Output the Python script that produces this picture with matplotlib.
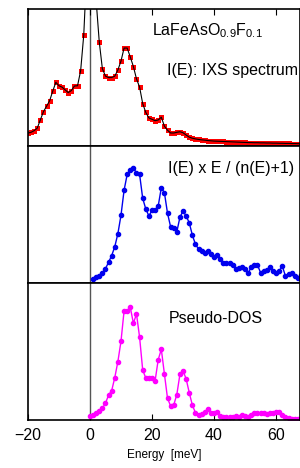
import matplotlib.pyplot as plt

plt.rcParams['font.family'] = ['Liberation Sans', 'DejaVu Sans']
plt.rcParams['mathtext.fontset'] = 'custom'
plt.rcParams['mathtext.rm'] = 'Liberation Sans'
plt.rcParams['mathtext.it'] = 'Liberation Sans'

# IXS spectrum I(E), arbitrary units (1.0 = top of panel)
e_ixs = list(range(-20, 69))
i_ixs = [0.095, 0.10, 0.112, 0.13, 0.19, 0.25, 0.29, 0.33, 0.40, 0.465,
         0.44, 0.43, 0.41, 0.39, 0.405, 0.438, 0.44, 0.55, 0.81, 1.3,
         4.0, 2.0, 1.06, 0.76, 0.565, 0.51, 0.50, 0.50, 0.51, 0.555,
         0.62, 0.715, 0.715, 0.65, 0.58, 0.49, 0.43, 0.31, 0.245, 0.205,
         0.195, 0.185, 0.19, 0.21, 0.145, 0.115, 0.095, 0.095, 0.10, 0.104,
         0.097, 0.08, 0.065, 0.057, 0.052, 0.048, 0.045, 0.043, 0.04, 0.038,
         0.036, 0.035, 0.034, 0.033, 0.032, 0.031, 0.030, 0.029, 0.028, 0.027,
         0.026, 0.025, 0.025, 0.024, 0.024, 0.023, 0.023, 0.022, 0.022, 0.021,
         0.021, 0.020, 0.020, 0.019, 0.019, 0.018, 0.018, 0.017, 0.017]

# I(E) x E / (n(E)+1)
e_mid = list(range(1, 69))
i_mid = [0.032, 0.044, 0.053, 0.071, 0.105, 0.151, 0.20, 0.265, 0.36, 0.494,
         0.677, 0.793, 0.825, 0.837, 0.805, 0.793, 0.618, 0.54, 0.49, 0.53,
         0.53, 0.562, 0.696, 0.659, 0.509, 0.41, 0.40, 0.374, 0.48, 0.526,
         0.489, 0.44, 0.35, 0.283, 0.248, 0.234, 0.217, 0.236, 0.212, 0.188,
         0.204, 0.173, 0.148, 0.144, 0.144, 0.131, 0.10, 0.107, 0.119, 0.10,
         0.071, 0.119, 0.131, 0.131, 0.075, 0.09, 0.095, 0.115, 0.088, 0.075,
         0.088, 0.124, 0.051, 0.063, 0.071, 0.051, 0.034, 0.058]

# Pseudo-DOS
e_dos = list(range(0, 68))
i_dos = [0.029, 0.036, 0.049, 0.066, 0.085, 0.122, 0.182, 0.214, 0.309, 0.426,
         0.574, 0.796, 0.798, 0.822, 0.706, 0.774, 0.604, 0.365, 0.306, 0.304,
         0.31, 0.286, 0.44, 0.516, 0.336, 0.158, 0.102, 0.109, 0.186, 0.333,
         0.359, 0.30, 0.20, 0.109, 0.053, 0.036, 0.044, 0.061, 0.078, 0.053,
         0.053, 0.058, 0.029, 0.022, 0.022, 0.022, 0.022, 0.029, 0.022, 0.036,
         0.029, 0.022, 0.036, 0.053, 0.05, 0.05, 0.053, 0.044, 0.05, 0.053,
         0.061, 0.061, 0.036, 0.022, 0.015, 0.01, 0.007, 0.007]

xticks = [-20, 0, 20, 40, 60]

fig = plt.figure(figsize=(3, 4.68), dpi=100)
left, width, h = 0.093, 0.907, 0.2927
ax1 = fig.add_axes([left, 0.688, width, h])
ax2 = fig.add_axes([left, 0.3953, width, h])
ax3 = fig.add_axes([left, 0.1026, width, h])

ax1.plot(e_ixs, i_ixs, 's', color='red', markersize=3.6, markeredgewidth=0)
ax1.plot(e_ixs, i_ixs, '-', color='black', linewidth=0.8)
ax2.plot(e_mid, i_mid, 'o-', color='#0000ee', markersize=3, linewidth=1)
ax3.plot(e_dos, i_dos, 'o-', color='#ff00ff', markersize=3, linewidth=1)

for ax in (ax1, ax2, ax3):
    ax.set_xlim(-20, 67.7)
    ax.set_ylim(0, 1)
    ax.axvline(0, color='#555555', linewidth=1, zorder=0)
    ax.set_yticks([])
    for s in ax.spines.values():
        s.set_linewidth(1.2)

ax1.set_xticks(xticks)
ax1.tick_params(axis='x', direction='in', top=True, bottom=False,
                labeltop=False, labelbottom=False, length=4)
ax2.set_xticks([])
ax3.set_xticks(xticks)
ax3.tick_params(axis='x', direction='in', length=4, labelsize=11.5, pad=6)
ax3.set_xlabel('Energy  [meV]', fontsize=8.5, labelpad=4)

ax1.text(0.456, 0.81, 'LaFeAsO$_{0.9}$F$_{0.1}$', transform=ax1.transAxes,
         fontsize=11.5, va='baseline')
ax1.text(0.511, 0.518, 'I(E): IXS spectrum', transform=ax1.transAxes,
         fontsize=11.5, va='baseline')
ax2.text(0.516, 0.803, 'I(E) x E / (n(E)+1)', transform=ax2.transAxes,
         fontsize=11.5, va='baseline')
ax3.text(0.516, 0.708, 'Pseudo-DOS', transform=ax3.transAxes,
         fontsize=11.5, va='baseline')

fig.savefig('out.png', dpi=100)
